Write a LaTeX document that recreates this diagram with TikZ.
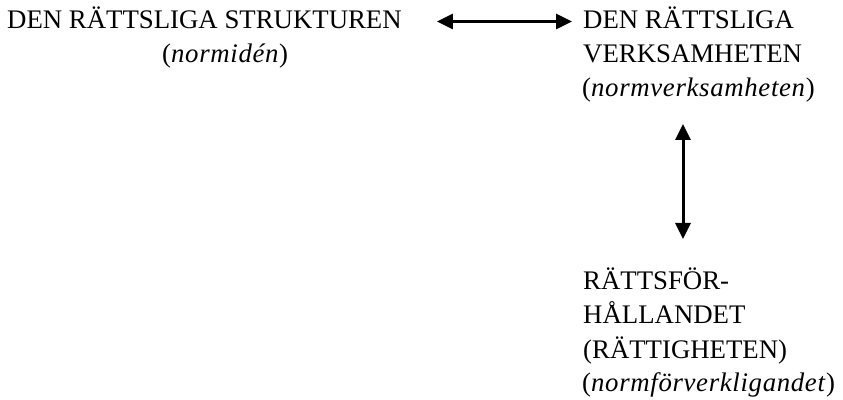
\documentclass[tikz,border=0pt]{standalone}
\usepackage{fontspec}
\setmainfont{Liberation Serif}
\usetikzlibrary{arrows.meta}
% slightly opened italic for the parenthesised terms
\newcommand{\term}[1]{\textit{\addfontfeature{LetterSpace=2.5}#1}}
\begin{document}
\begin{tikzpicture}[x=1pt,y=1pt,
  txt/.style={anchor=base west,inner sep=0pt,font=\fontsize{26.8}{34}\selectfont},
  dbl/.style={line width=3pt,{Triangle[length=16pt,width=15pt]}-{Triangle[length=16pt,width=15pt]}}]
\useasboundingbox (0,0) rectangle (843,399);
% left block
\node[txt] (struk) at (7,370) {DEN RÄTTSLIGA STRUKTUREN};
\node[txt] (ide) at (162,336) {(\term{normidén})};
% right block
\node[txt] (verk1) at (583,370) {DEN RÄTTSLIGA};
\node[txt] (verk2) at (583,336) {VERKSAMHETEN};
\node[txt] (verk3) at (582,302) {(\term{normverksamheten})};
% bottom block
\node[txt] (rf1) at (583,109) {RÄTTSFÖR-};
\node[txt] (rf2) at (583,75) {HÅLLANDET};
\node[txt] (rf3) at (583,41) {(RÄTTIGHETEN)};
\node[txt] (rf4) at (582,8) {(\term{normförverkligandet})};
% connectors
\draw[dbl] ([shift={(35pt,7.5pt)}]struk.base east) -- ([shift={(-11pt,7.5pt)}]verk1.base west);
\draw[dbl] ([shift={(101pt,-27pt)}]verk3.base west) -- ([shift={(100pt,51pt)}]rf1.base west);
\end{tikzpicture}
\end{document}
